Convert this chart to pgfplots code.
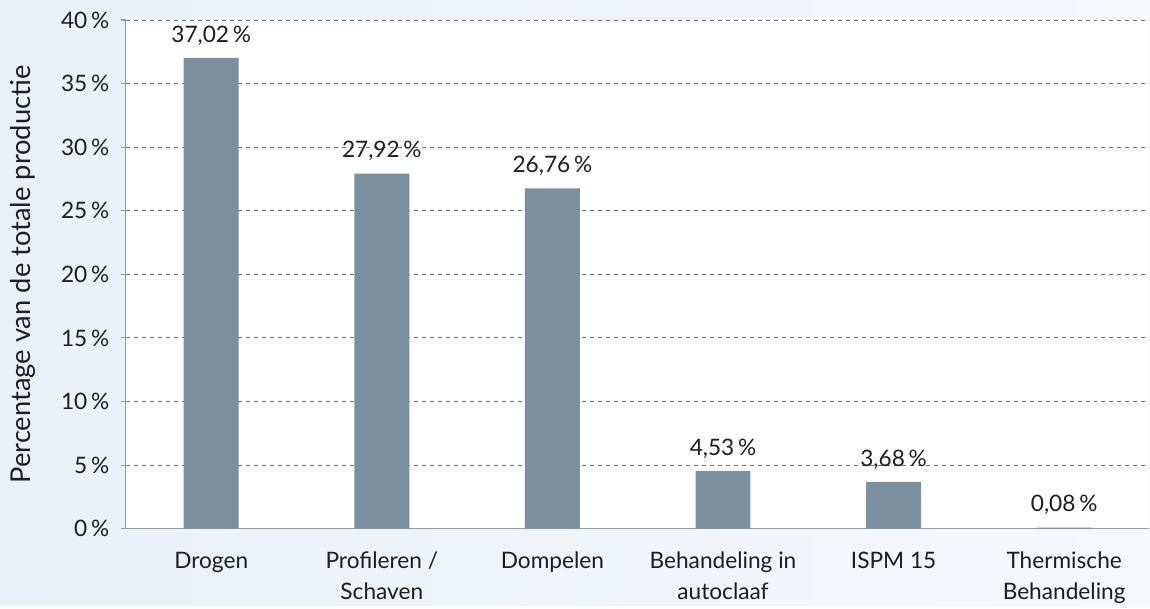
\documentclass[border=0pt]{standalone}
\usepackage{pgfplots}
\pgfplotsset{compat=1.18}
\usepackage{fontspec}
\setmainfont{Lato}
\definecolor{barcol}{RGB}{122,144,160}
\definecolor{bgblue}{RGB}{234,240,249}
\definecolor{bgwhite}{RGB}{246,248,252}
\definecolor{gridcol}{RGB}{110,110,110}
\definecolor{txt}{RGB}{30,30,30}
\begin{document}
\begin{tikzpicture}[x=0.75pt,y=0.75pt]
\shade[left color=bgblue,right color=bgwhite] (0,0) rectangle (1150,606);
\begin{axis}[
  at={(126pt*0.75,77pt*0.75)}, anchor=south west,
  scale only axis, width=768pt, height=381.75pt,
  xmin=-0.5, xmax=5.5, ymin=0, ymax=40,
  axis background/.style={fill=white},
  axis x line*=bottom, axis y line*=left,
  axis line style={draw=gray!80, line width=0.8pt},
  xtick=data,
  xticklabels={Drogen,{Profileren /\\Schaven},Dompelen,{Behandeling in\\autoclaaf},ISPM 15,{Thermische\\Behandeling}},
  xticklabel style={align=center, font=\fontsize{17}{23}\selectfont, text=txt, yshift=-10pt},
  xtick style={draw=none},
  ytick={0,5,...,40},
  yticklabel={\pgfmathprintnumber{\tick}\,\%},
  yticklabel style={font=\fontsize{17}{20}\selectfont, text=txt, xshift=-5pt},
  ytick style={draw=gray!80, line width=0.8pt},
  tick align=outside, major tick length=4pt,
  /pgf/number format/assume math mode=true,
  ymajorgrids, grid style={dashed, gridcol, line width=0.7pt},
  ylabel={Percentage van de totale productie},
  every axis y label/.style={at={(rel axis cs:0,0.5)}, rotate=90, anchor=center, yshift=77pt, font=\fontsize{20.5}{24}\selectfont, text=txt},
  ybar, bar width=55*0.75pt,
  point meta=explicit symbolic,
  nodes near coords={\pgfplotspointmeta\,\%},
  nodes near coords style={font=\fontsize{17}{20}\selectfont, text=txt, anchor=south, yshift=6pt},
  clip=false,
]
\addplot[fill=barcol, draw=none] coordinates {
  (0,37.02) [37,02]
  (1,27.92) [27,92]
  (2,26.76) [26,76]
  (3,4.53) [4,53]
  (4,3.68) [3,68]
  (5,0.08) [0,08]
};
\end{axis}
\end{tikzpicture}
\end{document}
